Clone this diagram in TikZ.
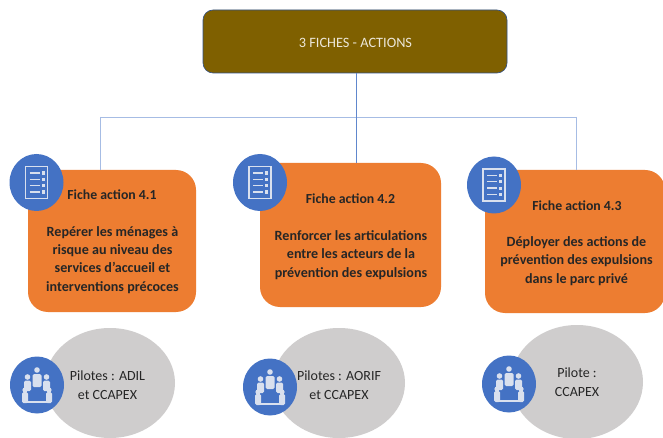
\documentclass[tikz,border=0pt]{standalone}
\usepackage{fontspec}
\setmainfont{Carlito}
\usetikzlibrary{shapes.geometric}
\definecolor{brownbox}{HTML}{7F6000}
\definecolor{orangebox}{HTML}{ED7D31}
\definecolor{bluedisc}{HTML}{4472C4}
\definecolor{greydisc}{HTML}{CFCDCD}
\definecolor{linkblue}{HTML}{A6BCE4}
\definecolor{icongrey}{HTML}{D9E0EE}
\tikzset{
    x=1pt, y=1pt,
    topbox/.style={draw=bluedisc!70!black, fill=brownbox, rounded corners=10pt, line width=0.6pt, inner sep=0pt},
    fichebox/.style={fill=orangebox, rounded corners=20pt, inner sep=0pt},
    pilotdisc/.style={ellipse, fill=greydisc, inner sep=0pt},
    icondisc/.style={ellipse, fill=bluedisc, inner sep=0pt, minimum width=54pt, minimum height=57pt},
    link/.style={linkblue, line width=0.8pt},
    fichetitle/.style={font=\bfseries\fontsize{13.8}{15}\selectfont, text=black!85},
    fichetext/.style={font=\bfseries\fontsize{14.1}{18.3}\selectfont, text=black!85, align=center},
    pilottext/.style={font=\fontsize{14}{19}\selectfont, text=black!85, align=center},
    pics/listicon/.style={code={
        \draw[icongrey, line width=1.3pt] (-11,-16) rectangle (11,16);
        \foreach \y in {-9.5,-3.2,3.2,9.5} {
            \draw[icongrey, line width=1.4pt] (-7,\y) -- (3,\y);
            \fill[icongrey] (5,\y-1.6) rectangle (8,\y+1.6);
        }
    }},
    pics/meetingicon/.style={code={
        \draw[icongrey, line width=1.4pt] (-11,-17) -- (11,-17);
        \fill[icongrey] (0,15) circle (2.8);
        \fill[icongrey, rounded corners=1.5pt] (-4.5,-2) rectangle (4.5,11);
        \foreach \s in {-1,1} {
            \fill[icongrey] (\s*9.5,8) circle (2.8);
            \fill[icongrey, rounded corners=1.5pt] (\s*9.5-3.5,-6) rectangle (\s*9.5+3.5,4.5);
            \fill[icongrey] (\s*12,-5) circle (2.6);
            \fill[icongrey, rounded corners=1.5pt] (\s*12-3,-18) rectangle (\s*12+3,-7);
        }
    }}
}
\begin{document}
\begin{tikzpicture}
    \useasboundingbox (0,0) rectangle (663,-438);
    \fill[white] (0,0) rectangle (663,-438);

    \node[topbox, minimum width=304pt, minimum height=63pt] (top) at (355,-41.5) {};
    \node[fichebox, minimum width=168pt, minimum height=142pt] (fichea) at (112,-241) {};
    \node[fichebox, minimum width=181pt, minimum height=144pt] (ficheb) at (350.5,-235) {};
    \node[fichebox, minimum width=180pt, minimum height=143pt] (fichec) at (575,-241.5) {};

    \coordinate (junction) at (356,-117);
    \coordinate (busa) at (100,-117);
    \coordinate (busc) at (576,-117);
    \draw[link, draw=bluedisc!85] (top.south -| junction) -- (junction);
    \draw[link] (busa) -- (busc);
    \draw[link, draw=bluedisc!85] (junction) -- (junction |- ficheb.north);
    \draw[link] (busa) -- (busa |- fichea.north);
    \draw[link] (busc) -- (busc |- fichec.north);

    \node[text=white!85!brownbox, font=\fontsize{14.3}{16}\selectfont] (toplabel) at (355.5,-43) {3 FICHES - ACTIONS};

    \node[icondisc] (listicona) at (36.5,-182.5) {};
    \node[icondisc] (listiconb) at (260,-182.5) {};
    \node[icondisc] (listiconc) at (494,-185) {};
    \pic at (listicona) {listicon};
    \pic at (listiconb) {listicon};
    \pic at (listiconc) {listicon};

    \node[fichetitle] (titlea) at (112,-195) {Fiche action 4.1};
    \node[fichetitle] (titleb) at (350.5,-199) {Fiche action 4.2};
    \node[fichetitle] (titlec) at (577,-206) {Fiche action 4.3};

    \node[fichetext] (texta) at (112.5,-260) {Repérer les ménages à\\risque au niveau des\\services d’accueil et\\interventions précoces};
    \node[fichetext] (textb) at (351,-255) {Renforcer les articulations\\entre les acteurs de la\\prévention des expulsions};
    \node[fichetext] (textc) at (576.5,-261) {Déployer des actions de\\prévention des expulsions\\dans le parc privé};

    \node[pilotdisc, minimum width=130pt, minimum height=110pt] (pilota) at (110,-383) {};
    \node[pilotdisc, minimum width=132pt, minimum height=110pt] (pilotb) at (339,-383) {};
    \node[pilotdisc, minimum width=132pt, minimum height=114pt] (pilotc) at (577,-382) {};

    \node[icondisc] (meetinga) at (37,-385) {};
    \node[icondisc] (meetingb) at (270,-387) {};
    \node[icondisc] (meetingc) at (509,-384) {};
    \pic at (meetinga) {meetingicon};
    \pic at (meetingb) {meetingicon};
    \pic at (meetingc) {meetingicon};

    \node[pilottext] (labela) at (107.5,-385) {Pilotes : ADIL\\et CCAPEX};
    \node[pilottext] (labelb) at (339,-385.5) {Pilotes : AORIF\\et CCAPEX};
    \node[pilottext] (labelc) at (577,-382) {Pilote :\\CCAPEX};
\end{tikzpicture}
\end{document}
